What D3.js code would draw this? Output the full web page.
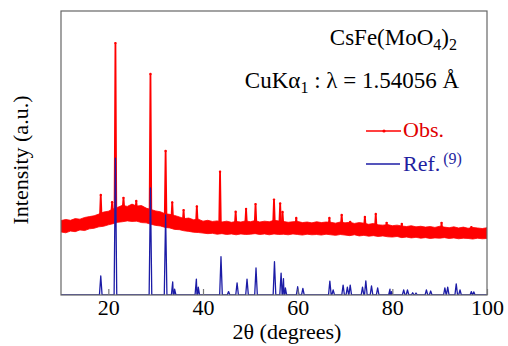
<!DOCTYPE html>
<html>
<head>
<meta charset="utf-8">
<script src="https://cdn.jsdelivr.net/npm/d3@7"></script>
<style>
  html, body { margin: 0; padding: 0; background: #fff; }
  svg { display: block; }
</style>
</head>
<body>
<svg id="chart" width="508" height="346"></svg>
<script>
// Observed pattern: noisy background band, sampled every 1° (lower / upper edge, a.u.)
const bandAngle = d3.range(10, 101, 1);
const bandLow = [
  22.2, 21.9, 22.5, 22.3, 22.9, 22.7, 23.3, 23.5, 24.0, 24.2,
  24.7, 25.1, 25.6, 25.8, 26.1, 25.9, 26.0, 25.5, 25.4, 24.9,
  24.5, 24.3, 23.8, 23.6, 23.1, 23.0, 22.6, 22.4, 22.1, 22.0,
  21.8, 21.6, 21.7, 21.4, 21.6, 21.3, 21.5, 21.2, 21.5, 21.3,
  21.4, 21.6, 21.3, 21.5, 21.2, 21.5, 21.3, 21.4, 21.2, 21.5,
  21.3, 21.1, 21.4, 21.2, 21.3, 21.1, 21.4, 21.2, 21.0, 21.3,
  21.1, 20.9, 21.2, 20.8, 21.0, 20.7, 20.9, 20.6, 20.8, 20.5,
  20.4, 20.6, 20.2, 20.4, 20.1, 20.3, 20.0, 20.2, 19.9, 20.1,
  20.0, 20.2, 19.9, 20.1, 19.8, 20.0, 19.9, 19.7, 20.0, 19.8,
  19.9
];
const bandHigh = [
  26.2, 26.6, 26.3, 26.9, 26.7, 27.3, 27.6, 27.9, 28.5, 29.2,
  29.5, 30.3, 30.9, 31.6, 31.2, 32.0, 31.3, 31.5, 30.6, 30.1,
  29.6, 29.3, 28.6, 28.4, 28.0, 27.5, 26.9, 27.1, 26.5, 26.7,
  26.0, 26.3, 25.9, 26.1, 25.7, 26.0, 25.6, 25.9, 25.7, 26.1,
  25.8, 26.2, 25.7, 26.0, 25.8, 26.3, 26.1, 25.9, 25.6, 25.8,
  25.9, 25.5, 25.7, 25.4, 25.8, 25.5, 25.7, 25.6, 25.3, 25.7,
  25.4, 25.6, 25.2, 25.5, 25.3, 24.9, 25.2, 24.7, 24.6, 24.8,
  24.4, 24.6, 24.3, 24.1, 24.4, 24.0, 24.2, 23.9, 24.1, 23.8,
  24.2, 23.9, 23.7, 24.0, 23.6, 23.9, 23.5, 23.8, 23.6, 23.4,
  23.7
];

// Observed Bragg reflections: 2θ (degrees) and peak top (a.u.)
const obsPeakAngle = [18.4, 20.8, 21.5, 23.2, 25.9, 28.9, 32.1, 33.5, 35.9, 38.7,
  43.6, 46.9, 49.1, 51.1, 55.0, 56.3, 56.8, 59.7, 66.7, 69.3,
  71.1, 74.2, 76.5, 78.8, 82.0, 90.4, 96.7];
const obsPeakTop = [35.2, 32.7, 88.7, 34.2, 33.1, 77.8, 50.7, 32.6, 29.9, 31.2,
  43.4, 29.3, 30.3, 32.0, 33.6, 32.2, 29.2, 27.1, 27.1, 28.2,
  25.7, 27.5, 28.5, 25.4, 25.0, 25.4, 23.9];

// Reference pattern, ref. (9): 2θ (degrees) and intensity (a.u.)
const refAngle = [18.4, 21.5, 28.9, 32.1, 33.6, 34.0, 38.6, 39.0, 43.8, 45.4,
  47.2, 49.3, 51.2, 55.1, 56.5, 57.0, 57.4, 60.0, 61.1, 66.8,
  67.5, 69.6, 70.5, 71.1, 73.7, 74.4, 75.6, 76.9, 79.5, 79.8,
  82.4, 83.2, 84.3, 85.0, 87.2, 88.1, 91.1, 91.7, 93.5, 94.3,
  96.7, 97.2];
const refIntensity = [6.7, 48.2, 37.7, 28.2, 4.6, 2.1, 5.6, 2.8, 13.5, 1.2,
  4.3, 5.6, 9.5, 11.7, 7.7, 5.8, 2.5, 2.9, 2.3, 4.9,
  1.8, 3.5, 2.8, 3.5, 2.8, 5.0, 3.2, 2.5, 2.1, 1.2,
  1.8, 1.8, 0.8, 0.7, 1.8, 1.4, 2.5, 2.8, 3.9, 1.8,
  1.2, 1.1];

const xTicks = [20, 40, 60, 80, 100];

const SERIF = "'Liberation Serif', 'Times New Roman', Times, 'DejaVu Serif', serif";

const svg = d3.select("#chart");
const frame = { left: 61, right: 487, top: 11, bottom: 295 };

const x = d3.scaleLinear().domain([10, 100]).range([frame.left, frame.right]);
const y = d3.scaleLinear().domain([0, 100]).range([frame.bottom, frame.top]);

const RED = "#ff0000";
const BLUE = "#1c1ca6";

const plot = svg.append("g");
plot.append("clipPath").attr("id", "clip")
  .append("rect")
  .attr("x", frame.left).attr("y", frame.top)
  .attr("width", frame.right - frame.left).attr("height", frame.bottom - frame.top);

const layer = plot.append("g").attr("clip-path", "url(#clip)");

// Observed background band
const band = bandAngle.map((a, i) => ({ a, lo: bandLow[i], hi: bandHigh[i] }));
layer.append("path")
  .datum(band)
  .attr("fill", RED)
  .attr("stroke", RED)
  .attr("stroke-width", 0.8)
  .attr("stroke-linejoin", "miter")
  .attr("d", d3.area().x(d => x(d.a)).y0(d => y(d.lo)).y1(d => y(d.hi)));

// Observed peaks rising out of the band
const bandTopAt = a => bandHigh[Math.round(a) - 10] - 1.5;
const spike = d3.line().x(d => x(d[0])).y(d => y(d[1]));
obsPeakAngle.forEach((a, i) => {
  const base = bandTopAt(a);
  const pts = [[a - 0.18, base], [a, obsPeakTop[i]], [a + 0.18, base]];
  layer.append("path")
    .attr("d", spike(pts))
    .attr("fill", "none")
    .attr("stroke", RED)
    .attr("stroke-width", 1.8)
    .attr("stroke-linejoin", "round");
  layer.append("circle")
    .attr("cx", x(a)).attr("cy", y(obsPeakTop[i]))
    .attr("r", 1.2).attr("fill", RED);
});

// Reference stick pattern
const refPts = [[10, 0]];
refAngle.forEach((a, i) => {
  refPts.push([a - 0.28, 0], [a, refIntensity[i]], [a + 0.28, 0]);
});
refPts.push([100, 0]);
refPts.sort((p, q) => p[0] - q[0]);
layer.append("path")
  .attr("d", d3.line().x(d => x(d[0])).y(d => y(d[1]))(refPts))
  .attr("fill", "none")
  .attr("stroke", BLUE)
  .attr("stroke-width", 1.3)
  .attr("stroke-linejoin", "round");

// Frame
plot.append("rect")
  .attr("x", frame.left).attr("y", frame.top)
  .attr("width", frame.right - frame.left).attr("height", frame.bottom - frame.top)
  .attr("fill", "none").attr("stroke", "#666").attr("stroke-width", 1.2);

// Bottom axis: inward ticks and labels
const xAxis = d3.axisBottom(x).tickValues(xTicks).tickSizeInner(-6).tickSizeOuter(0).tickPadding(10);
const gx = svg.append("g").attr("transform", `translate(0,${frame.bottom})`).call(xAxis);
gx.attr("font-family", null);
gx.select(".domain").remove();
gx.selectAll(".tick line").attr("stroke", "#777").attr("stroke-width", 1.2);
gx.selectAll(".tick text")
  .style("font-family", SERIF)
  .attr("font-size", 22).attr("fill", "#000")
  .attr("dy", null).attr("y", 20);

// Axis titles
svg.append("text")
  .style("font-family", SERIF)
  .attr("x", 287).attr("y", 339)
  .attr("text-anchor", "middle").attr("font-size", 22).attr("fill", "#000")
  .text("2θ (degrees)");

svg.append("text")
  .style("font-family", SERIF)
  .attr("transform", "translate(28,160) rotate(-90)")
  .attr("text-anchor", "middle").attr("font-size", 22).attr("fill", "#000")
  .text("Intensity (a.u.)");

// Compound and radiation
const t1 = svg.append("text").style("font-family", SERIF)
  .attr("x", 457).attr("y", 45)
  .attr("text-anchor", "end").attr("font-size", 23).attr("fill", "#000");
t1.append("tspan").text("CsFe(MoO");
t1.append("tspan").attr("font-size", 16).attr("dy", 5).text("4");
t1.append("tspan").attr("dy", -5).text(")");
t1.append("tspan").attr("font-size", 16).attr("dy", 5).text("2");

const t2 = svg.append("text").style("font-family", SERIF)
  .attr("x", 459).attr("y", 88)
  .attr("text-anchor", "end").attr("font-size", 23).attr("fill", "#000");
t2.append("tspan").text("CuKα");
t2.append("tspan").attr("font-size", 16).attr("dy", 5).text("1");
t2.append("tspan").attr("dy", -5).text(" : λ = 1.54056 Å");

// Legend
const legend = svg.append("g");
legend.append("line").attr("x1", 366).attr("x2", 401).attr("y1", 131).attr("y2", 131)
  .attr("stroke", RED).attr("stroke-width", 1.3);
legend.append("circle").attr("cx", 384).attr("cy", 131).attr("r", 1.6).attr("fill", RED);
legend.append("text").style("font-family", SERIF)
  .attr("x", 403).attr("y", 137)
  .attr("font-size", 22).attr("fill", "#e00000").text("Obs.");

legend.append("line").attr("x1", 366).attr("x2", 400).attr("y1", 164).attr("y2", 164)
  .attr("stroke", BLUE).attr("stroke-width", 1.3);
const rt = legend.append("text").style("font-family", SERIF)
  .attr("x", 403).attr("y", 171)
  .attr("font-size", 22).attr("fill", "#1f1fa0");
rt.append("tspan").text("Ref.");
rt.append("tspan").attr("font-size", 16).attr("dx", 3).attr("dy", -7).text("(9)");
</script>
</body>
</html>
